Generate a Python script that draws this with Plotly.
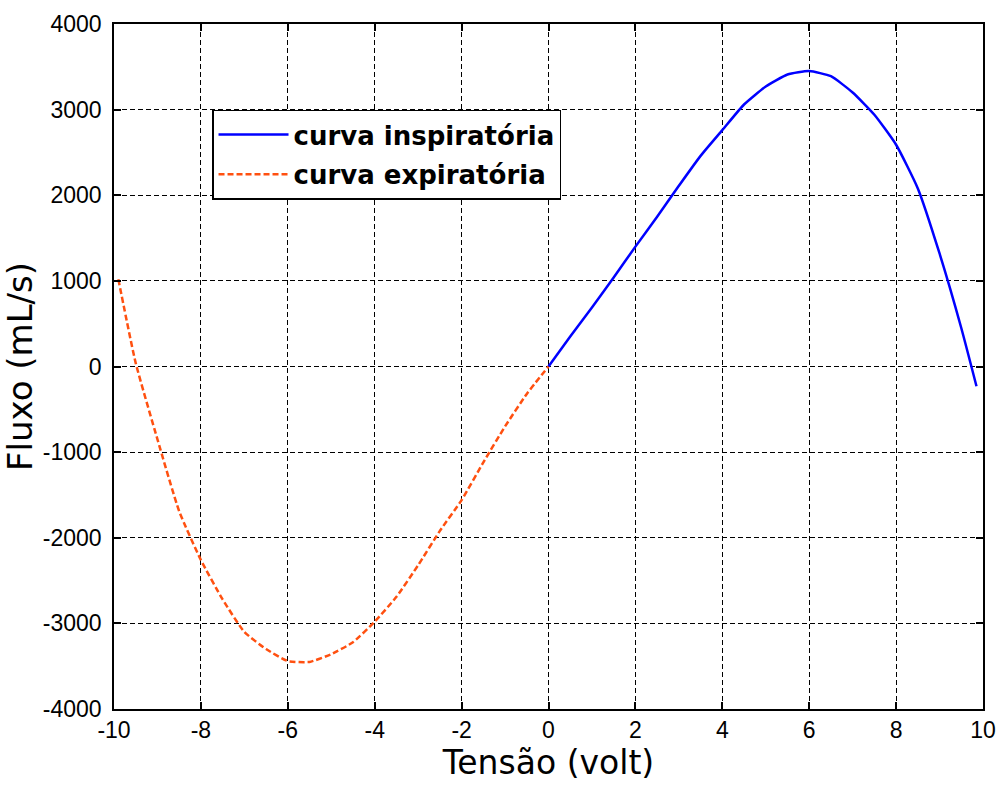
import plotly.graph_objects as go

# Inspiratory branch (positive voltage)
insp_volt = [0, 0.5, 1, 1.5, 2, 2.5, 3, 3.5, 4, 4.5, 5, 5.5, 6, 6.5, 7, 7.5, 8, 8.5, 9, 9.5, 9.85]
insp_flow = [0, 350, 690, 1040, 1400, 1750, 2110, 2460, 2760, 3060, 3270, 3410, 3450, 3390, 3200, 2940, 2590, 2080, 1320, 450, -230]

# Expiratory branch (negative voltage)
exp_volt = [-9.9, -9.5, -9, -8.5, -8, -7.5, -7, -6.5, -6, -5.5, -5, -4.5, -4, -3.5, -3, -2.5, -2, -1.5, -1, -0.5, 0]
exp_flow = [1020, 40, -850, -1690, -2260, -2720, -3100, -3300, -3440, -3450, -3360, -3220, -2980, -2690, -2320, -1920, -1560, -1120, -700, -320, 0]

x_ticks = [-10, -8, -6, -4, -2, 0, 2, 4, 6, 8, 10]
y_ticks = [-4000, -3000, -2000, -1000, 0, 1000, 2000, 3000, 4000]

TICK_FONT = "Liberation Sans, Arial, sans-serif"
TEXT_FONT = "DejaVu Sans, Verdana, sans-serif"

fig = go.Figure()
fig.add_trace(go.Scatter(
    x=insp_volt, y=insp_flow, mode="lines", name="curva inspiratória",
    legendgroup="insp",
    line=dict(color="#0000FF", width=2.5, shape="spline", smoothing=0.5),
))
fig.add_trace(go.Scatter(
    x=exp_volt, y=exp_flow, mode="lines", name="curva expiratória",
    legendgroup="exp",
    line=dict(color="#FF5010", width=2.5, dash="6px,3px", shape="spline", smoothing=0.5),
))

axis_common = dict(
    showline=True, linecolor="black", linewidth=1.5, mirror="ticks",
    ticks="inside", ticklen=7, tickcolor="black", tickwidth=1.5,
    showgrid=True, gridcolor="black", griddash="5px,3px", gridwidth=1,
    zeroline=False, automargin=False,
    tickfont=dict(family=TICK_FONT, size=23, color="black"),
)

fig.update_layout(
    width=999, height=787,
    margin=dict(l=114, r=16, t=24, b=78),
    paper_bgcolor="white", plot_bgcolor="white",
    xaxis=dict(
        range=[-10, 10], tickvals=x_ticks, ticktext=[str(v) for v in x_ticks],
        title=dict(text="Tensão (volt)", standoff=4,
                   font=dict(family=TEXT_FONT, size=33, color="black")),
        ticklabelstandoff=0,
        **axis_common,
    ),
    yaxis=dict(
        range=[-4000, 4000], tickvals=y_ticks, ticktext=[str(v) for v in y_ticks],
        title=dict(text="Fluxo (mL/s)", standoff=6,
                   font=dict(family=TEXT_FONT, size=34, color="black")),
        ticklabelstandoff=6,
        **axis_common,
    ),
    legend=dict(
        x=0.1128, y=0.875, xanchor="left", yanchor="top",
        bgcolor="white", bordercolor="black", borderwidth=1.5,
        font=dict(family=TEXT_FONT, size=26, color="black", weight="bold"),
        tracegroupgap=3, itemwidth=70,
        entrywidth=360, entrywidthmode="pixels",
    ),
    showlegend=True,
)

fig.write_html("out.html")
